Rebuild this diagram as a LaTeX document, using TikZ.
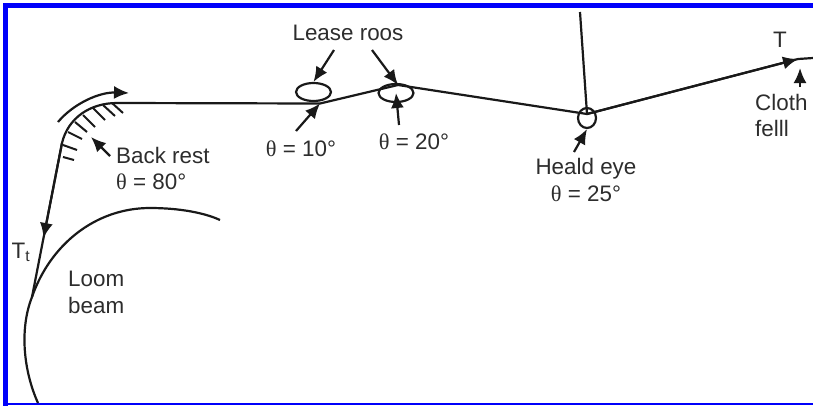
\documentclass[tikz,border=0pt]{standalone}
\usepackage{fontspec}
\setmainfont{Liberation Sans}
\newfontfamily\thetafont{Liberation Serif}
\usetikzlibrary{arrows.meta,positioning,shapes.geometric}
\definecolor{framecol}{RGB}{0,0,250}
\definecolor{inkcol}{RGB}{45,45,45}
\newcommand{\angleval}[1]{{\thetafont\symbol{"03B8}} = #1°}

\begin{document}
\begin{tikzpicture}[x=1pt,y=-1pt,>={Latex[length=15pt,width=13pt]}]
  \tikzstyle{thread}=[draw=black!90,line width=2.2pt]
  \tikzstyle{pointer}=[thread,->]
  \tikzstyle{hatch}=[draw=black!90,line width=2pt]
  \tikzstyle{roller}=[draw=black!90,line width=2.2pt,ellipse,inner sep=0pt]
  \tikzstyle{lbl}=[text=inkcol,font=\fontsize{22.4}{26.5}\selectfont,align=left,inner sep=0pt]
  \useasboundingbox (0,0) rectangle (813,405);
  \fill[white] (0,0) rectangle (813,405);
  % frame
  \draw[framecol,line width=5pt] (5.5,406) -- (5.5,5.5) -- (814,5.5);
  \draw[framecol,line width=2pt] (5.5,404) -- (814,404);
  % warp path
  \coordinate (beamtouch) at (32,297);
  \coordinate (restin) at (62,143);
  \coordinate (restout) at (117,103);
  \coordinate (leaseA) at (320,103.5);
  \coordinate (leaseB) at (398,85);
  \coordinate (eye) at (587,114);
  \coordinate (fell) at (798,59);
  \coordinate (clothend) at (813,58);
  \coordinate (harness) at (580,12);
  \draw[thread] (beamtouch) -- (restin) .. controls (68,118) and (90,103) .. (restout) -- (leaseA) -- (leaseB) -- (eye) -- (fell) -- (clothend);
  \draw[thread] (harness) -- (eye);
  \coordinate (warptip) at (43.5,238);
  \draw[pointer] (restin) -- (warptip);
  \draw[pointer] (eye) -- (fell);
  % back rest hatching
  \foreach \xa/\ya/\xb/\yb in {63/157/74/160,63/145/77/150,68/132/82/139,75/122/87/132,83/115/95/127,93/108/105/120,103/105/115/116,112/103/123/113}
    \draw[hatch] (\xa,\ya) -- (\xb,\yb);
  \coordinate (sweepstart) at (58,122);
  \coordinate (sweeptip) at (129,93);
  \draw[pointer] (sweepstart) .. controls (74,103) and (100,92) .. (sweeptip);
  % beam
  \coordinate (beamfoot) at (38,403);
  \coordinate (beamend) at (220,220);
  \draw[thread] (beamfoot) .. controls (24,372) and (19,330) .. (beamtouch) .. controls (50,245) and (95,208) .. (150,208) .. controls (180,208) and (205,213) .. (beamend);
  % rollers
  \node[roller,minimum width=35pt,minimum height=18pt] (leaseone) at (313.5,92) {};
  \node[roller,minimum width=35pt,minimum height=18pt] (leasetwo) at (396,93) {};
  \node[roller,minimum width=18pt,minimum height=20pt] (heald) at (587,118) {};
  % labels
  \node[lbl] (leaselbl) at (348,33) {Lease roos};
  \node[lbl] (tenlbl) at (301,149) {\angleval{10}};
  \node[lbl] (twentylbl) at (414,142) {\angleval{20}};
  \node[lbl,anchor=north west] (restlbl) at (116,147) {Back rest\\\angleval{80}};
  \node[lbl,align=center] (heldlbl) at (586,180) {Heald eye\\\angleval{25}};
  \node[lbl] (tenslbl) at (780,40) {T};
  \node[lbl,anchor=north west] (clothlbl) at (755,94) {Cloth\\felll};
  \node[lbl] (warplbl) at (21,252) {T\textsubscript{t}};
  \node[lbl,anchor=north west] (beamlbl) at (68,271) {Loom\\beam};
  % pointers
  \coordinate (leasefromA) at (334,50);
  \coordinate (leasefromB) at (372,50);
  \coordinate (tenfrom) at (296,131);
  \coordinate (twentyfrom) at (399,125);
  \coordinate (restfrom) at (110,156);
  \coordinate (resttip) at (91,137);
  \coordinate (healdfrom) at (574,152);
  \coordinate (cellfrom) at (800,87);
  \coordinate (celltip) at (800,68);
  \draw[pointer] (leasefromA) -- (leaseone.north);
  \draw[pointer] (leasefromB) -- (leaseB);
  \draw[pointer] (tenfrom) -- (leaseA);
  \draw[pointer] (twentyfrom) -- (leasetwo.center);
  \draw[pointer] (restfrom) -- (resttip);
  \draw[pointer] (healdfrom) -- (heald.south);
  \draw[pointer] (cellfrom) -- (celltip);
\end{tikzpicture}
\end{document}
